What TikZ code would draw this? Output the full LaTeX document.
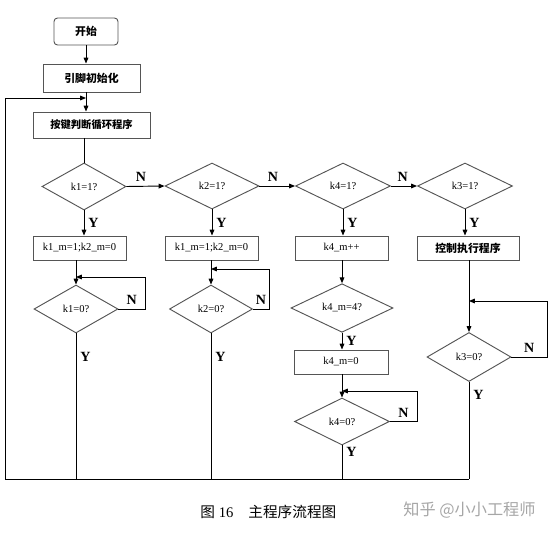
\documentclass[tikz,border=0pt]{standalone}
\usepackage{fontspec}
\setmainfont{Liberation Serif}
\newfontfamily\cjk{Noto Sans CJK SC}
\usetikzlibrary{shapes.geometric,arrows.meta}

\begin{document}
\begin{tikzpicture}[x=0.03cm,y=-0.03cm,line width=0.8pt,
    box/.style={draw=linec,rectangle,inner sep=0pt,font=\fontsize{9}{10}\selectfont},
    cbox/.style={box,font=\cjk\bfseries\fontsize{9.3}{11}\selectfont},
    ask/.style={draw=linec,diamond,inner sep=0pt,font=\fontsize{9}{10}\selectfont},
    yn/.style={font=\bfseries\fontsize{12}{13}\selectfont},
    go/.style={-{Triangle[length=5pt,width=4pt]}}]
    \definecolor{linec}{HTML}{555555}
    \def\u{0.03cm}
    \useasboundingbox (0,0) rectangle (553,533);
    \path (5,98) coordinate (ret) (5,479) coordinate (bl) (86,98) coordinate (join);
    % top part
    \node[cbox,rounded corners=3pt,minimum width=64*\u,minimum height=27*\u] (start) at (86,31.5) {开始};
    \node[cbox,minimum width=97*\u,minimum height=28*\u] (init) at (91.5,78) {引脚初始化};
    \node[cbox,minimum width=117*\u,minimum height=26*\u,font=\cjk\bfseries\fontsize{8.8}{11}\selectfont] (scan) at (91.5,125) {按键判断循环程序};
    \draw[go] (start.south) -- (start.south |- init.north);
    \draw (init.south -| join) -- (join);
    \draw[go] (join) -- (join |- scan.north);
    \draw[go] (bl) -- (ret) -- (join);
    % first row of tests
    \node[ask,minimum width=84*\u,minimum height=47*\u] (d1) at (84,186.5) {k1=1?};
    \node[ask,minimum width=94*\u,minimum height=46*\u] (d2) at (212,186) {k2=1?};
    \node[ask,minimum width=95*\u,minimum height=46*\u] (d3) at (343,186) {k4=1?};
    \node[ask,minimum width=95*\u,minimum height=46*\u] (d4) at (465,186) {k3=1?};
    \draw (scan.south -| d1.north) -- (d1.north);
    \draw[go] (d1.east) -- (d2.west) node[yn,pos=.38,above] {N};
    \draw[go] (d2.east) -- (d3.west) node[yn,pos=.38,above] {N};
    \draw[go] (d3.east) -- (d4.west) node[yn,pos=.45,above] {N};
    % boxes
    \node[box,minimum width=93*\u,minimum height=24*\u] (b1) at (79.5,248) {k1\_m=1;k2\_m=0};
    \node[box,minimum width=93*\u,minimum height=24*\u] (b2) at (211.5,248) {k1\_m=1;k2\_m=0};
    \node[box,minimum width=93*\u,minimum height=24*\u] (b3) at (341.5,248) {k4\_m++};
    \node[cbox,minimum width=102*\u,minimum height=24*\u] (b4) at (468,248) {控制执行程序};
    \foreach \d/\b in {d1/b1,d2/b2,d3/b3,d4/b4}
        \draw[go] (\d.south) -- (\d.south |- \b.north) node[yn,midway,right] {Y};
    % wait loops
    \node[ask,minimum width=84*\u,minimum height=48*\u] (e1) at (76,309) {k1=0?};
    \node[ask,minimum width=83*\u,minimum height=48*\u] (e2) at (211,309) {k2=0?};
    \node[ask,minimum width=102*\u,minimum height=46*\u] (f) at (342,308) {k4\_m=4?};
    \node[box,minimum width=94*\u,minimum height=24*\u] (g) at (341,362) {k4\_m=0};
    \node[ask,minimum width=95*\u,minimum height=47*\u] (e3) at (342,421.5) {k4=0?};
    \node[ask,minimum width=84*\u,minimum height=49*\u] (e4) at (469,357) {k3=0?};
    \path (145,277) coordinate (l1) (269,269) coordinate (l2)
          (417,391) coordinate (l3) (547,301) coordinate (l4);
    \draw[go] (b1.south -| e1.north) -- (e1.north);
    \draw[go] (b2.south -| e2.north) -- (e2.north);
    \draw[go] (b3.south -| f.north) -- (f.north);
    \draw[go] (f.south) -- (f.south |- g.north) node[yn,midway,right] {Y};
    \draw[go] (g.south -| e3.north) -- (e3.north);
    \draw[go] (b4.south -| e4.north) -- (e4.north);
    \foreach \e/\l in {e1/l1,e2/l2,e3/l3,e4/l4}
        \draw[go] (\e.east) -- node[yn,above] {N} (\e.east -| \l) -- (\l) -- (\l -| \e.north);
    % back to the scan
    \draw (e1.south) -- (e1.south |- bl) node[yn,pos=.16,right] {Y};
    \draw (e2.south) -- (e2.south |- bl) node[yn,pos=.16,right] {Y};
    \draw (e3.south) -- (e3.south |- bl) node[yn,pos=.2,right] {Y};
    \draw (e4.south) -- (e4.south |- bl) node[yn,pos=.13,right] {Y};
    \draw (bl) -- (e4.south |- bl);
    % caption
    \node[font=\fontsize{12.5}{14}\selectfont,anchor=west,inner sep=0pt] (cap) at (200,512) {{\cjk 图} 16\hspace{0.45cm}{\cjk 主程序流程图}};
    \node[font=\cjk\fontsize{13.8}{15}\selectfont,text=black!35,anchor=west,inner sep=0pt] (wm) at (403,510) {知乎 @小小工程师};
\end{tikzpicture}
\end{document}
